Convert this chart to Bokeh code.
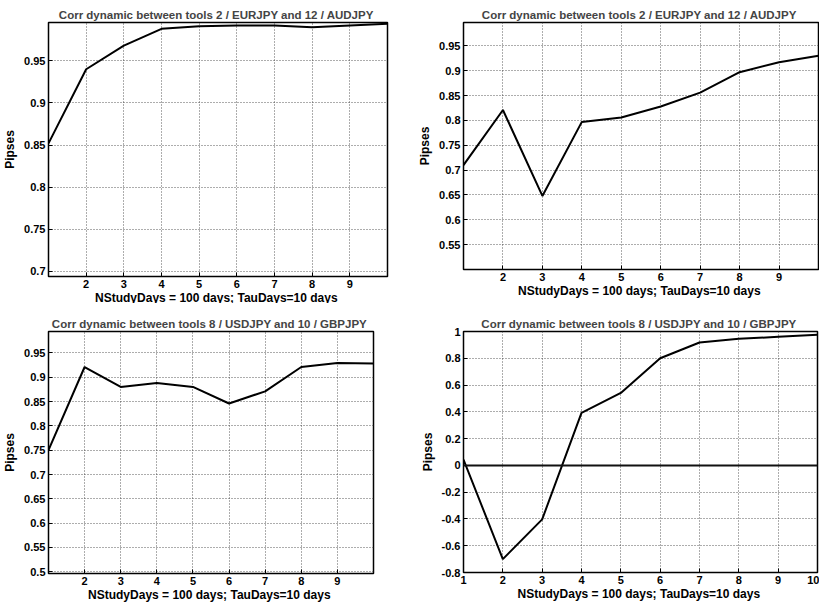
from bokeh.plotting import figure
from bokeh.layouts import gridplot
from bokeh.models import FixedTicker, PrintfTickFormatter, Range1d, Span
from bokeh.embed import file_html
from bokeh.resources import INLINE

# ---- data ----
days = [1, 2, 3, 4, 5, 6, 7, 8, 9, 10]
corr_eur_aud_a = [0.852, 0.940, 0.968, 0.988, 0.991, 0.992, 0.992, 0.990, 0.992, 0.994]
corr_eur_aud_b = [0.710, 0.821, 0.648, 0.797, 0.806, 0.828, 0.856, 0.897, 0.917, 0.930]
corr_usd_gbp_a = [0.750, 0.921, 0.880, 0.888, 0.880, 0.846, 0.871, 0.921, 0.929, 0.928]
corr_usd_gbp_b = [0.044, -0.700, -0.403, 0.392, 0.541, 0.800, 0.918, 0.945, 0.960, 0.975]

title_eur_aud = "Corr dynamic between tools  2 / EURJPY and 12 / AUDJPY"
title_usd_gbp = "Corr dynamic between tools  8 / USDJPY and 10 / GBPJPY"
x_label = "NStudyDays = 100 days;  TauDays=10 days"
y_label = "Pipses"

x_ticks_inner = [2, 3, 4, 5, 6, 7, 8, 9]
x_ticks_full = [1, 2, 3, 4, 5, 6, 7, 8, 9, 10]
y_ticks_a = [0.7, 0.75, 0.8, 0.85, 0.9, 0.95]
y_ticks_b = [0.55, 0.6, 0.65, 0.7, 0.75, 0.8, 0.85, 0.9, 0.95]
y_ticks_c = [0.5, 0.55, 0.6, 0.65, 0.7, 0.75, 0.8, 0.85, 0.9, 0.95]
y_ticks_d = [-0.8, -0.6, -0.4, -0.2, 0, 0.2, 0.4, 0.6, 0.8, 1]

FONT = "Liberation Sans"


def make(title, ys, yr, xt, yt, fw, fh, left, right, top, bottom):
    p = figure(frame_width=fw, frame_height=fh,
               x_range=Range1d(1, 10), y_range=Range1d(*yr),
               output_backend="svg", toolbar_location=None,
               min_border_left=left, min_border_right=right,
               min_border_top=top, min_border_bottom=bottom,
               background_fill_color="white", border_fill_color="white")
    p.title.text = title
    p.title.align = "center"
    p.title.text_font = FONT
    p.title.text_font_size = "11.5px"
    p.title.text_font_style = "bold"
    p.title.standoff = 4
    p.outline_line_color = "black"
    p.outline_line_width = 1.5
    p.outline_line_alpha = 1.0
    for ax, ticks in ((p.xaxis[0], xt), (p.yaxis[0], yt)):
        ax.ticker = FixedTicker(ticks=ticks)
        ax.formatter = PrintfTickFormatter(format="%g")
        ax.axis_line_color = None
        ax.major_tick_in = 4
        ax.major_tick_out = 0
        ax.major_tick_line_color = "black"
        ax.minor_tick_line_color = None
        ax.major_label_text_font = FONT
        ax.major_label_text_font_size = "11px"
        ax.major_label_text_font_style = "bold"
        ax.major_label_text_color = "black"
        ax.major_label_standoff = 3
        ax.axis_label_text_font = FONT
        ax.axis_label_text_font_size = "12px"
        ax.axis_label_text_font_style = "bold"
        ax.axis_label_text_color = "black"
    p.xaxis.axis_label = x_label
    p.xaxis.axis_label_standoff = 0
    p.yaxis.axis_label = y_label
    p.yaxis.axis_label_standoff = 4
    p.grid.grid_line_color = "#333333"
    p.grid.grid_line_dash = "1 2"
    p.grid.grid_line_width = 1
    p.grid.grid_line_alpha = 0.8
    p.line(days, ys, line_color="black", line_width=2)
    return p


p1 = make(title_eur_aud, corr_eur_aud_a, (0.694, 0.9955), x_ticks_inner, y_ticks_a,
          339, 254, 39, 24, 18, 24)
p2 = make(title_eur_aud, corr_eur_aud_b, (0.5, 0.997), x_ticks_inner, y_ticks_b,
          355, 247, 51, 2, 22, 27)
p3 = make(title_usd_gbp, corr_usd_gbp_a, (0.4965, 0.994), x_ticks_inner, y_ticks_c,
          325, 242, 41, 36, 27, 27)
p4 = make(title_usd_gbp, corr_usd_gbp_b, (-0.8, 1.0), x_ticks_full, y_ticks_d,
          354, 241, 52, 2, 28, 27)
p4.add_layout(Span(location=0, dimension="width", line_color="#111111", line_width=2))

grid = gridplot([[p1, p2], [p3, p4]], toolbar_location=None)

open("out.html", "w").write(file_html(grid, INLINE))
